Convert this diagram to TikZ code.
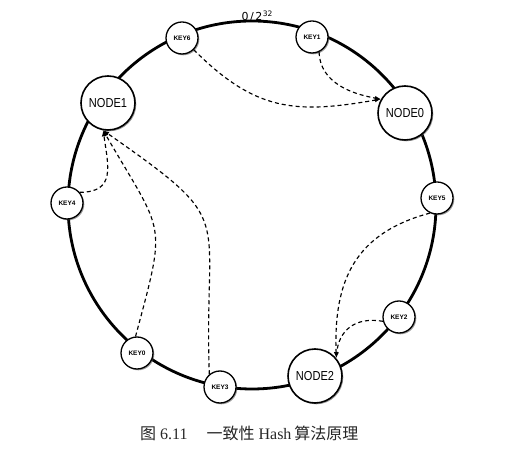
\documentclass[tikz,border=0pt]{standalone}
\usepackage{fontspec}
\usepackage{graphicx}
\setmainfont{Liberation Serif}
\setsansfont{Liberation Sans}
\newfontfamily\cjk{Noto Sans CJK SC}
\newfontfamily\djv{DejaVu Sans}
\usetikzlibrary{arrows.meta,shadows}
\newcommand\nodelbl[1]{\scalebox{0.85}[1]{#1}}
\tikzset{
  ring/.style={line width=2.8pt, black},
  shad/.style={drop shadow={shadow xshift=1.3pt, shadow yshift=-1.3pt, fill=black!70, opacity=0.55}},
  keynode/.style={circle, draw, line width=1.3pt, fill=white, minimum size=32pt, inner sep=0pt,
    font=\sffamily\bfseries\fontsize{6.5}{6.5}\selectfont, shad},
  bignode/.style={circle, draw, line width=1.6pt, fill=white, minimum size=54pt, inner sep=0pt,
    font=\sffamily\fontsize{13}{13}\selectfont, shad},
  maparrow/.style={line width=1.15pt, dash pattern=on 4pt off 3pt, -{Latex[length=6pt,width=4.5pt]}},
  toplabel/.style={font=\djv\fontsize{11}{11}\selectfont, inner sep=0pt},
  caption/.style={font=\fontsize{16}{16}\selectfont, inner sep=0pt, anchor=base west, text=black!85}
}
\begin{document}
\begin{tikzpicture}[x=1pt,y=1pt]
\useasboundingbox (0,0) rectangle (529,454);
\draw[ring] (252,249) circle[radius=184];
\node[toplabel] (lbl) at (257,438) {0\kern1.5pt/\kern1.5pt2\kern0.5pt\raisebox{4pt}{\fontsize{7.5}{7.5}\selectfont 32}};
\node[keynode] (key6) at (182,416) {KEY6};
\node[keynode] (key1) at (312,417) {KEY1};
\node[bignode] (node0) at (405,341) {\nodelbl{NODE0}};
\node[keynode] (key5) at (437,256) {KEY5};
\node[keynode] (key2) at (399,137) {KEY2};
\node[bignode] (node2) at (315,78) {\nodelbl{NODE2}};
\node[keynode] (key3) at (220,67) {KEY3};
\node[keynode] (key0) at (137,101) {KEY0};
\node[keynode] (key4) at (67,251) {KEY4};
\node[bignode] (node1) at (108,351) {\nodelbl{NODE1}};
\draw[maparrow] (key6.-45) to[out=-45, in=190, looseness=1.15] (node0.150);
\draw[maparrow] (key1.-65) to[out=-88, in=170] (node0.150);
\draw[maparrow] (key4.40) to[out=0, in=-82, looseness=1.4] (node1.-100);
\draw[maparrow] (key0.95) to[out=75, in=-60, looseness=1.5] (node1.-100);
\draw[maparrow] (key3.130) to[out=92, in=-35, looseness=1.6] (node1.-100);
\draw[maparrow] (key5.-115) to[out=195, in=92, looseness=1.15] (node2.40);
\draw[maparrow] (key2.195) to[out=170, in=85, looseness=1.2] (node2.40);
\node[caption] (cap) at (140,14) {{\cjk 图}\hspace{4pt}6.11\hspace{19pt}{\cjk 一致性}\hspace{4pt}Hash\hspace{3pt}{\cjk 算法原理}};
\end{tikzpicture}
\end{document}
